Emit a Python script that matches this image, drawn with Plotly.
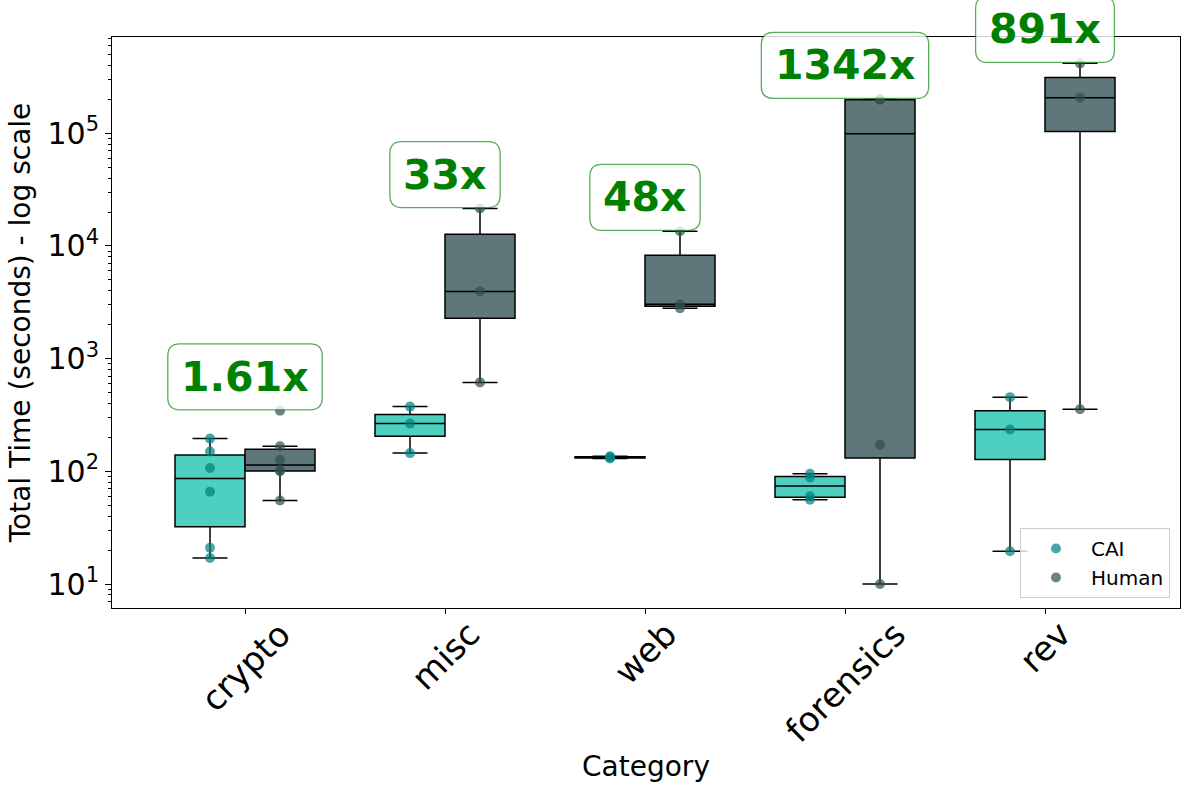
import numpy as np
import plotly.graph_objects as go

categories = ["crypto", "misc", "web", "forensics", "rev"]
series_names = ["CAI", "Human"]

# Total time (seconds) per challenge
cai_crypto = [17, 21, 66, 107, 150, 195]
cai_misc = [145, 265, 375]
cai_web = [130, 133, 136]
cai_forensics = [56, 60, 88, 95]
cai_rev = [19.5, 235, 455]

human_crypto = [55, 100, 102, 126, 167, 345]
human_misc = [615, 3950, 21500]
human_web = [2800, 3030, 13500]
human_forensics = [10, 172, 198000, 200000]
human_rev = [355, 207000, 417000]

ratio_labels = ["1.61x", "33x", "48x", "1342x", "891x"]

cai_data = [cai_crypto, cai_misc, cai_web, cai_forensics, cai_rev]
human_data = [human_crypto, human_misc, human_web, human_forensics, human_rev]

BOX_FILL = {"CAI": "#4dd0c0", "Human": "#5f777b"}
PT_COLOR = {"CAI": "teal", "Human": "darkslategray"}
OFFSET = {"CAI": -0.175, "Human": 0.175}
BOX_W = 0.35
FONT = "DejaVu Sans"
X_RANGE = [-0.665, 4.675]
Y_RANGE = [0.787, 5.854]   # log10 units


def box_stats(vals):
    v = np.sort(np.asarray(vals, dtype=float))
    q1, med, q3 = np.percentile(v, [25, 50, 75])
    iqr = q3 - q1
    lo = v[v >= q1 - 1.5 * iqr].min()
    hi = v[v <= q3 + 1.5 * iqr].max()
    return q1, med, q3, lo, hi


def x_paper(x):
    return (x - X_RANGE[0]) / (X_RANGE[1] - X_RANGE[0])


def y_paper(v):
    return (np.log10(v) - Y_RANGE[0]) / (Y_RANGE[1] - Y_RANGE[0])


fig = go.Figure()

for name, data in zip(series_names, [cai_data, human_data]):
    stats = [box_stats(d) for d in data]
    pos = [i + OFFSET[name] for i in range(len(categories))]
    fig.add_trace(go.Box(
        x=pos,
        q1=[s[0] for s in stats],
        median=[s[1] for s in stats],
        q3=[s[2] for s in stats],
        lowerfence=[s[3] for s in stats],
        upperfence=[s[4] for s in stats],
        width=BOX_W,
        whiskerwidth=0.5,
        fillcolor=BOX_FILL[name],
        line=dict(color="black", width=1.5),
        boxpoints=False,
        showlegend=False,
        hoverinfo="skip",
    ))

for name, data in zip(series_names, [cai_data, human_data]):
    xs, ys = [], []
    for i, d in enumerate(data):
        xs += [i + OFFSET[name]] * len(d)
        ys += list(d)
    fig.add_trace(go.Scatter(
        x=xs, y=ys, mode="markers", name=name,
        marker=dict(color=PT_COLOR[name], size=10, opacity=0.7),
    ))

# ratio annotations with rounded boxes
char_w = {"x": 0.712, ".": 0.380}
ann_size = 41
shapes = []
annotations = []
for i, (lab, hd) in enumerate(zip(ratio_labels, human_data)):
    yval = 2 * max(hd)
    tw = sum(char_w.get(c, 0.696) for c in lab) * ann_size
    W = tw + 24
    H = 66
    r = 12
    hw, hh = W / 2, H / 2
    path = (f"M {-hw + r},{-hh} L {hw - r},{-hh} Q {hw},{-hh} {hw},{-hh + r} "
            f"L {hw},{hh - r} Q {hw},{hh} {hw - r},{hh} L {-hw + r},{hh} "
            f"Q {-hw},{hh} {-hw},{hh - r} L {-hw},{-hh + r} Q {-hw},{-hh} {-hw + r},{-hh} Z")
    shapes.append(dict(
        type="path", path=path, xref="paper", yref="paper",
        xsizemode="pixel", ysizemode="pixel",
        xanchor=x_paper(i), yanchor=y_paper(yval),
        fillcolor="rgba(255,255,255,0.8)",
        line=dict(color="rgba(0,128,0,0.65)", width=1.3),
        layer="above",
    ))
    annotations.append(dict(
        x=x_paper(i), y=y_paper(yval), xref="paper", yref="paper",
        text=lab, showarrow=False,
        font=dict(family=FONT, size=ann_size, color="green", weight="bold"),
        xanchor="center", yanchor="middle",
    ))

# rotated category labels (centered under ticks)
for i, c in enumerate(categories):
    annotations.append(dict(
        x=i, y=0, xref="x", yref="paper", text=c, showarrow=False,
        textangle=-45, xanchor="center", yanchor="top", yshift=-3,
        font=dict(family=FONT, size=34, color="black"),
    ))

major = [10 ** k for k in range(1, 6)]
major_text = [f"10<sup>{k}</sup>" for k in range(1, 6)]
minor_vals = [m * 10 ** k for k in range(0, 6) for m in range(2, 10)]

fig.update_layout(
    width=1189, height=791,
    margin=dict(l=112, r=9, t=37, b=183),
    paper_bgcolor="white", plot_bgcolor="white",
    font=dict(family=FONT, color="black"),
    shapes=shapes,
    annotations=annotations,
    legend=dict(
        x=0.9906, y=0.0175, xanchor="right", yanchor="bottom",
        bgcolor="rgba(255,255,255,0.8)", bordercolor="#cccccc", borderwidth=1,
        font=dict(family=FONT, size=20), itemwidth=60,
    ),
)
fig.update_xaxes(
    range=X_RANGE, tickvals=list(range(len(categories))),
    showticklabels=False, ticks="outside", ticklen=5, tickcolor="black",
    showline=True, mirror=True, linecolor="black", linewidth=1,
    showgrid=False, zeroline=False,
    title=dict(text="Category", font=dict(family=FONT, size=28), standoff=143),
)
fig.update_yaxes(
    type="log", range=Y_RANGE,
    tickmode="array", tickvals=major, ticktext=major_text,
    ticks="outside", ticklen=6, tickcolor="black",
    tickfont=dict(family=FONT, size=30),
    minor=dict(tickmode="array", tickvals=minor_vals, ticks="outside",
               ticklen=3, tickcolor="black", showgrid=False),
    showline=True, mirror=True, linecolor="black", linewidth=1,
    showgrid=False, zeroline=False,
    title=dict(text="Total Time (seconds) - log scale", font=dict(family=FONT, size=28), standoff=8),
)

fig.write_html("out.html")
